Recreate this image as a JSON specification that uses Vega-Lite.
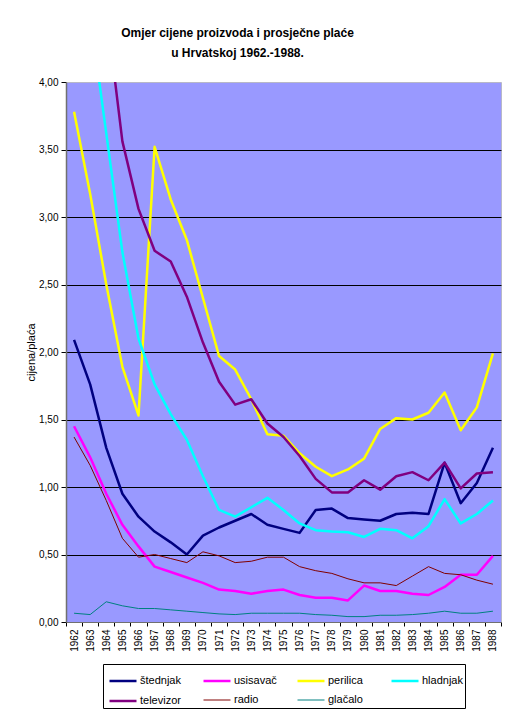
{
  "$schema": "https://vega.github.io/schema/vega-lite/v6.json",
  "width": 435,
  "height": 540,
  "autosize": {"type": "none"},
  "padding": {"left": 66, "top": 82, "right": 18, "bottom": 89},
  "background": "white",
  "title": {
    "text": ["Omjer cijene proizvoda i prosječne plaće", "u Hrvatskoj 1962.-1988."],
    "font": "Liberation Sans",
    "fontSize": 12,
    "fontWeight": "bold",
    "color": "black",
    "anchor": "middle",
    "dx": -46,
    "offset": 17,
    "lineHeight": 20
  },
  "config": {
    "font": "Liberation Sans",
    "view": {"fill": "#9999FF", "stroke": "#B8B8C8", "strokeWidth": 1}
  },
  "data": {
    "values": [
      {"year": "1962", "štednjak": 2.09, "usisavač": 1.45, "perilica": 3.78, "hladnjak": 5.0, "televizor": 6.0, "radio": 1.37, "glačalo": 0.065},
      {"year": "1963", "štednjak": 1.76, "usisavač": 1.22, "perilica": 3.17, "hladnjak": 4.5, "televizor": 5.3, "radio": 1.16, "glačalo": 0.055},
      {"year": "1964", "štednjak": 1.29, "usisavač": 0.95, "perilica": 2.5, "hladnjak": 3.62, "televizor": 4.54, "radio": 0.9, "glačalo": 0.15},
      {"year": "1965", "štednjak": 0.95, "usisavač": 0.72, "perilica": 1.89, "hladnjak": 2.74, "televizor": 3.56, "radio": 0.62, "glačalo": 0.12},
      {"year": "1966", "štednjak": 0.78, "usisavač": 0.56, "perilica": 1.53, "hladnjak": 2.1, "televizor": 3.06, "radio": 0.48, "glačalo": 0.1},
      {"year": "1967", "štednjak": 0.67, "usisavač": 0.41, "perilica": 3.52, "hladnjak": 1.76, "televizor": 2.75, "radio": 0.5, "glačalo": 0.1},
      {"year": "1968", "štednjak": 0.59, "usisavač": 0.37, "perilica": 3.13, "hladnjak": 1.54, "televizor": 2.67, "radio": 0.47, "glačalo": 0.09},
      {"year": "1969", "štednjak": 0.5, "usisavač": 0.33, "perilica": 2.83, "hladnjak": 1.35, "televizor": 2.41, "radio": 0.44, "glačalo": 0.08},
      {"year": "1970", "štednjak": 0.64, "usisavač": 0.29, "perilica": 2.4, "hladnjak": 1.08, "televizor": 2.07, "radio": 0.52, "glačalo": 0.07},
      {"year": "1971", "štednjak": 0.7, "usisavač": 0.24, "perilica": 1.97, "hladnjak": 0.83, "televizor": 1.78, "radio": 0.49, "glačalo": 0.06},
      {"year": "1972", "štednjak": 0.75, "usisavač": 0.23, "perilica": 1.87, "hladnjak": 0.78, "televizor": 1.61, "radio": 0.44, "glačalo": 0.055},
      {"year": "1973", "štednjak": 0.8, "usisavač": 0.21, "perilica": 1.65, "hladnjak": 0.85, "televizor": 1.65, "radio": 0.45, "glačalo": 0.065},
      {"year": "1974", "štednjak": 0.72, "usisavač": 0.23, "perilica": 1.39, "hladnjak": 0.92, "televizor": 1.47, "radio": 0.48, "glačalo": 0.065},
      {"year": "1975", "štednjak": 0.69, "usisavač": 0.24, "perilica": 1.38, "hladnjak": 0.83, "televizor": 1.37, "radio": 0.48, "glačalo": 0.065},
      {"year": "1976", "štednjak": 0.66, "usisavač": 0.2, "perilica": 1.25, "hladnjak": 0.73, "televizor": 1.23, "radio": 0.41, "glačalo": 0.065},
      {"year": "1977", "štednjak": 0.83, "usisavač": 0.18, "perilica": 1.15, "hladnjak": 0.68, "televizor": 1.06, "radio": 0.38, "glačalo": 0.055},
      {"year": "1978", "štednjak": 0.84, "usisavač": 0.18, "perilica": 1.08, "hladnjak": 0.67, "televizor": 0.96, "radio": 0.36, "glačalo": 0.05},
      {"year": "1979", "štednjak": 0.77, "usisavač": 0.16, "perilica": 1.13, "hladnjak": 0.665, "televizor": 0.96, "radio": 0.32, "glačalo": 0.04},
      {"year": "1980", "štednjak": 0.76, "usisavač": 0.27, "perilica": 1.21, "hladnjak": 0.63, "televizor": 1.05, "radio": 0.29, "glačalo": 0.04},
      {"year": "1981", "štednjak": 0.75, "usisavač": 0.23, "perilica": 1.43, "hladnjak": 0.69, "televizor": 0.98, "radio": 0.29, "glačalo": 0.05},
      {"year": "1982", "štednjak": 0.8, "usisavač": 0.23, "perilica": 1.51, "hladnjak": 0.68, "televizor": 1.08, "radio": 0.27, "glačalo": 0.05},
      {"year": "1983", "štednjak": 0.81, "usisavač": 0.21, "perilica": 1.5, "hladnjak": 0.62, "televizor": 1.11, "radio": 0.34, "glačalo": 0.055},
      {"year": "1984", "štednjak": 0.8, "usisavač": 0.2, "perilica": 1.55, "hladnjak": 0.71, "televizor": 1.05, "radio": 0.41, "glačalo": 0.065},
      {"year": "1985", "štednjak": 1.18, "usisavač": 0.26, "perilica": 1.7, "hladnjak": 0.91, "televizor": 1.18, "radio": 0.36, "glačalo": 0.08},
      {"year": "1986", "štednjak": 0.88, "usisavač": 0.35, "perilica": 1.42, "hladnjak": 0.73, "televizor": 0.99, "radio": 0.35, "glačalo": 0.065},
      {"year": "1987", "štednjak": 1.03, "usisavač": 0.35, "perilica": 1.59, "hladnjak": 0.8, "televizor": 1.1, "radio": 0.31, "glačalo": 0.065},
      {"year": "1988", "štednjak": 1.29, "usisavač": 0.49, "perilica": 1.99, "hladnjak": 0.9, "televizor": 1.11, "radio": 0.28, "glačalo": 0.08}
    ]
  },
  "transform": [
    {"fold": ["štednjak", "usisavač", "perilica", "hladnjak", "televizor", "radio", "glačalo"], "as": ["series", "value"]}
  ],
  "mark": {"type": "line", "clip": true, "strokeJoin": "round"},
  "encoding": {
    "x": {
      "field": "year",
      "type": "ordinal",
      "scale": {"type": "band", "paddingInner": 0, "paddingOuter": 0},
      "axis": {
        "title": null,
        "tickBand": "extent",
        "labelAngle": -90,
        "labelFontSize": 10,
        "labelColor": "black",
        "labelPadding": 3,
        "tickSize": 4,
        "tickColor": "black",
        "domainColor": "#707070",
        "grid": false
      }
    },
    "y": {
      "field": "value",
      "type": "quantitative",
      "scale": {"domain": [0, 4], "nice": false, "zero": true},
      "axis": {
        "title": "cijena/plaća",
        "titleFontSize": 11,
        "titleFontWeight": "normal",
        "titleColor": "black",
        "titlePadding": 2,
        "values": [0, 0.5, 1, 1.5, 2, 2.5, 3, 3.5, 4],
        "labelExpr": "replace(format(datum.value, '.2f'), '.', ',')",
        "labelFontSize": 10,
        "labelColor": "black",
        "labelPadding": 3,
        "tickSize": 5,
        "tickColor": "black",
        "domainColor": "#707070",
        "domainWidth": 1.5,
        "grid": true,
        "gridColor": {"condition": {"test": "datum.value >= 4 || datum.value <= 0", "value": "transparent"}, "value": "black"},
        "gridOpacity": 1,
        "gridWidth": 1
      }
    },
    "color": {
      "field": "series",
      "type": "nominal",
      "title": null,
      "scale": {
        "domain": ["štednjak", "usisavač", "perilica", "hladnjak", "televizor", "radio", "glačalo"],
        "range": ["#000080", "#FF00FF", "#FFFF00", "#00FFFF", "#800080", "#800000", "#008080"]
      },
      "legend": {
        "orient": "none",
        "legendX": 37,
        "legendY": 582,
        "direction": "horizontal",
        "columns": 4,
        "gridAlign": "all",
        "symbolType": "stroke",
        "symbolSize": 729,
        "symbolOffset": 3,
        "labelFontSize": 11,
        "labelColor": "black",
        "labelOffset": 2,
        "columnPadding": 15,
        "rowPadding": -7,
        "strokeColor": "black",
        "fillColor": "white",
        "padding": 2
      }
    },
    "strokeWidth": {
      "field": "series",
      "type": "ordinal",
      "title": null,
      "legend": null,
      "scale": {
        "type": "ordinal",
        "domain": ["štednjak", "usisavač", "perilica", "hladnjak", "televizor", "radio", "glačalo"],
        "range": [2.5, 2.5, 2.5, 2.5, 2.5, 1, 1]
      }
    }
  }
}
